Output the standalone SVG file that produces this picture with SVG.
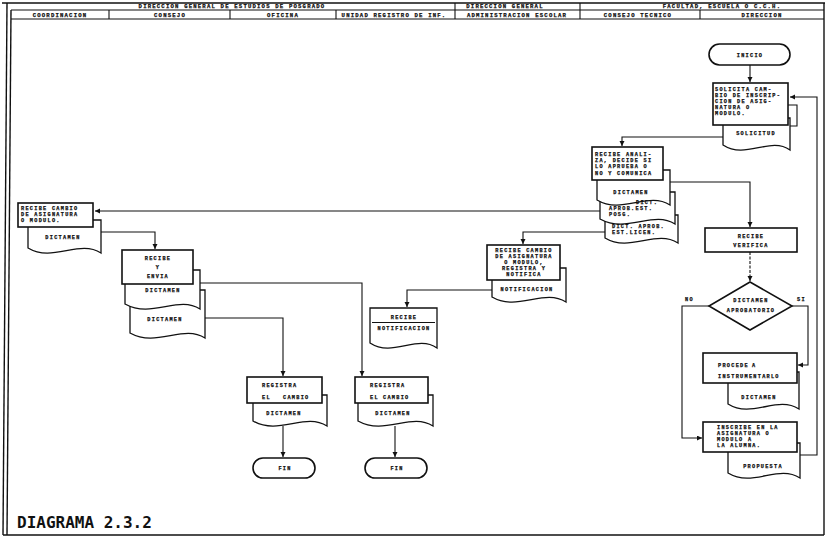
<svg xmlns="http://www.w3.org/2000/svg" width="826" height="540" viewBox="0 0 826 540">
<style>
.bx{fill:#fff;stroke:#111;stroke-width:1.6}
.dc{fill:#fff;stroke:#111;stroke-width:1.3}
.ln{fill:none;stroke:#111;stroke-width:1.1}
.fr{fill:none;stroke:#111;stroke-width:1.4}
.t{font-family:"Liberation Mono","DejaVu Sans Mono",monospace;font-weight:bold;font-size:5.2px;letter-spacing:1.3px;fill:#111;stroke:#111;stroke-width:0.25}
.h{font-family:"Liberation Mono","DejaVu Sans Mono",monospace;font-weight:bold;font-size:5.6px;letter-spacing:1.2px;fill:#111;stroke:#111;stroke-width:0.25;text-anchor:middle}
.m{text-anchor:middle}
.big{font-family:"DejaVu Sans Mono","Liberation Mono",monospace;font-weight:bold;font-size:16px;fill:#111}
</style>
<defs>
<marker id="ar" markerUnits="userSpaceOnUse" markerWidth="6" markerHeight="6" refX="5" refY="2.5" orient="auto"><path d="M0,0 L5,2.5 L0,5 z" fill="#111"/></marker>
</defs>
<rect width="826" height="540" fill="#fff"/>
<g id="frame">
<line class="fr" x1="2" y1="3" x2="825" y2="3" stroke-width="2"/>
<line class="fr" x1="7" y1="3" x2="3" y2="535"/>
<line class="fr" x1="11" y1="10" x2="7" y2="535"/>
<line class="fr" x1="3" y1="535" x2="824" y2="535"/>
<line class="fr" x1="824" y1="3" x2="824" y2="535"/>
<line class="ln" x1="11" y1="10" x2="824" y2="10"/>
<line class="ln" x1="11" y1="19" x2="824" y2="19"/>
<line class="ln" x1="455" y1="3" x2="455" y2="19"/>
<line class="ln" x1="580" y1="3" x2="580" y2="19"/>
<line class="ln" x1="109" y1="10" x2="109" y2="19"/>
<line class="ln" x1="230" y1="10" x2="230" y2="19"/>
<line class="ln" x1="336" y1="10" x2="336" y2="19"/>
<line class="ln" x1="700" y1="10" x2="700" y2="19"/>
<text class="h" x="232" y="8">DIRECCION GENERAL DE ESTUDIOS DE POSGRADO</text>
<text class="h" x="505" y="8">DIRECCION GENERAL</text>
<text class="h" x="722" y="8">FACULTAD, ESCUELA  O C.C.H.</text>
<text class="h" x="60" y="16.6">COORDINACION</text>
<text class="h" x="170" y="16.6">CONSEJO</text>
<text class="h" x="283" y="16.6">OFICINA</text>
<text class="h" x="394" y="16.6">UNIDAD REGISTRO DE INF.</text>
<text class="h" x="517" y="16.6">ADMINISTRACION ESCOLAR</text>
<text class="h" x="638" y="16.6">CONSEJO TECNICO</text>
<text class="h" x="762" y="16.6">DIRECCION</text>
<text class="big" x="17" y="528">DIAGRAMA 2.3.2</text>
</g>
<g id="connectors">
<path class="ln" d="M750,65 V82" marker-end="url(#ar)"/>
<path class="ln" d="M788,105 H797 V126 H790"/>
<path class="ln" d="M800,455 H817 V97 H790" marker-end="url(#ar)"/>
<path class="ln" d="M723,137 H622 V146" marker-end="url(#ar)"/>
<path class="ln" d="M670,182 H750 V227" marker-end="url(#ar)"/>
<path class="ln" d="M600,211 H95" marker-end="url(#ar)"/>
<path class="ln" d="M605,232 H523 V244" marker-end="url(#ar)"/>
<path class="ln" d="M750,252 V281" marker-end="url(#ar)" stroke-dasharray="3 1.5"/>
<path class="ln" d="M709,306 H682 V438 H702" marker-end="url(#ar)"/>
<path class="ln" d="M792,306 H808 V365 H798" marker-end="url(#ar)"/>
<path class="ln" d="M100,232 H155 V249" marker-end="url(#ar)"/>
<path class="ln" d="M200,283 H362 V376" marker-end="url(#ar)"/>
<path class="ln" d="M205,318 H283 V376" marker-end="url(#ar)"/>
<path class="ln" d="M492,290 H407 V307" marker-end="url(#ar)"/>
<path class="ln" d="M283,426 V457" marker-end="url(#ar)"/>
<path class="ln" d="M395,426 V457" marker-end="url(#ar)"/>
<text class="t" x="685" y="301">NO</text>
<text class="t" x="797" y="301">SI</text>
</g>
<g id="inicio">
<rect class="bx" x="709" y="44" width="81" height="21" rx="10.5"/>
<text class="t m" x="750" y="57">INICIO</text>
</g>
<g id="solicita">
<path class="dc" d="M723,118 H790 V150 C770,136 746,160 723,145 Z"/>
<rect class="bx" x="713" y="83" width="75" height="42"/>
<text class="t" x="715" y="91">SOLICITA CAM-</text>
<text class="t" x="715" y="97">BIO DE INSCRIP-</text>
<text class="t" x="715" y="103">CION DE ASIG-</text>
<text class="t" x="715" y="109">NATURA O</text>
<text class="t" x="715" y="115">MODULO.</text>
<text class="t m" x="756" y="135">SOLICITUD</text>
</g>
<g id="recibe-analiza">
<path class="dc" d="M605,215 H678 V243 C656,229 630,253 605,238 Z"/>
<path class="dc" d="M600,192 H675 V224 C653,210 627,234 600,219 Z"/>
<path class="dc" d="M597,170 H670 V205 C648,191 622,215 597,200 Z"/>
<rect class="bx" x="592" y="147" width="71" height="33"/>
<text class="t" x="595" y="156">RECIBE ANALI-</text>
<text class="t" x="595" y="162">ZA, DECIDE SI</text>
<text class="t" x="595" y="168">LO APRUEBA O</text>
<text class="t" x="595" y="174.5">NO Y COMUNICA</text>
<text class="t m" x="631" y="194">DICTAMEN</text>
<text class="t" x="636" y="204">DICT.</text>
<text class="t" x="609" y="210">APROB.EST.</text>
<text class="t" x="609" y="216">POSG.</text>
<text class="t" x="612" y="228">DICT. APROB.</text>
<text class="t" x="612" y="234">EST.LICEN.</text>
</g>
<g id="recibe-verifica">
<rect class="bx" x="705" y="228" width="92" height="24"/>
<text class="t m" x="751" y="238">RECIBE</text>
<text class="t m" x="751" y="247">VERIFICA</text>
</g>
<g id="decision">
<polygon class="bx" points="750,282 792,306 750,330 709,306"/>
<text class="t m" x="751" y="302">DICTAMEN</text>
<text class="t m" x="751" y="312">APROBATORIO</text>
</g>
<g id="procede">
<path class="dc" d="M728,372 H799 V409 C777,395 752,419 728,404 Z"/>
<rect class="bx" x="703" y="353" width="94" height="30"/>
<text class="t" x="718" y="367">PROCEDE</text>
<text class="t" x="752" y="367">A</text>
<text class="t" x="718" y="378">INSTRUMENTARLO</text>
<text class="t m" x="759" y="399">DICTAMEN</text>
</g>
<g id="inscribe">
<path class="dc" d="M728,443 H800 V478 C778,464 753,488 728,473 Z"/>
<rect class="bx" x="703" y="422" width="94" height="30"/>
<text class="t" x="717" y="429">INSCRIBE EN LA</text>
<text class="t" x="717" y="435">ASIGNATURA O</text>
<text class="t" x="717" y="441">MODULO A</text>
<text class="t" x="717" y="447">LA ALUMNA.</text>
<text class="t m" x="763" y="468">PROPUESTA</text>
</g>
<g id="coord-recibe">
<path class="dc" d="M28,220 H101 V253 C79,239 53,263 28,248 Z"/>
<rect class="bx" x="18" y="203" width="75" height="24"/>
<text class="t" x="21" y="210">RECIBE CAMBIO</text>
<text class="t" x="21" y="216">DE ASIGNATURA</text>
<text class="t" x="21" y="222">O MODULO.</text>
<text class="t m" x="63" y="239">DICTAMEN</text>
</g>
<g id="consejo-recibe">
<path class="dc" d="M130,290 H205 V338 C183,324 157,348 130,333 Z"/>
<path class="dc" d="M125,270 H200 V309 C178,295 152,319 125,304 Z"/>
<rect class="bx" x="122" y="250" width="71" height="34"/>
<text class="t m" x="158" y="260">RECIBE</text>
<text class="t m" x="158" y="269">Y</text>
<text class="t m" x="158" y="278">ENVIA</text>
<text class="t m" x="163" y="292">DICTAMEN</text>
<text class="t m" x="165" y="321">DICTAMEN</text>
</g>
<g id="admin-recibe">
<path class="dc" d="M492,268 H566 V302 C544,288 518,312 492,297 Z"/>
<rect class="bx" x="487" y="245" width="73" height="35"/>
<text class="t m" x="524" y="252">RECIBE CAMBIO</text>
<text class="t m" x="524" y="258">DE ASIGNATURA</text>
<text class="t m" x="524" y="264">O MODULO,</text>
<text class="t m" x="524" y="270">REGISTRA Y</text>
<text class="t m" x="524" y="276">NOTIFICA</text>
<text class="t m" x="527" y="291">NOTIFICACION</text>
</g>
<g id="recibe-notificacion">
<path class="dc" d="M370,308 H437 V348 C417,334 393,358 370,343 Z"/>
<text class="t m" x="404" y="319">RECIBE</text>
<line class="ln" x1="372" y1="322.5" x2="435" y2="322.5"/>
<text class="t m" x="404" y="330">NOTIFICACION</text>
</g>
<g id="registra-1">
<path class="dc" d="M253,395 H327 V426 C305,412 279,436 253,421 Z"/>
<rect class="bx" x="247" y="377" width="75" height="26"/>
<text class="t" x="262" y="387">REGISTRA</text>
<text class="t" x="262" y="399">EL</text>
<text class="t" x="283" y="399">CAMBIO</text>
<text class="t m" x="284" y="415">DICTAMEN</text>
</g>
<g id="registra-2">
<path class="dc" d="M358,395 H433 V426 C411,412 385,436 358,421 Z"/>
<rect class="bx" x="355" y="377" width="73" height="26"/>
<text class="t" x="370" y="387">REGISTRA</text>
<text class="t" x="370" y="399">EL</text>
<text class="t" x="383" y="399">CAMBIO</text>
<text class="t m" x="393" y="415">DICTAMEN</text>
</g>
<g id="fin-1">
<rect class="bx" x="253" y="458" width="62" height="20" rx="10"/>
<text class="t m" x="285" y="470">FIN</text>
</g>
<g id="fin-2">
<rect class="bx" x="365" y="458" width="62" height="20" rx="10"/>
<text class="t m" x="397" y="470">FIN</text>
</g>
</svg>
